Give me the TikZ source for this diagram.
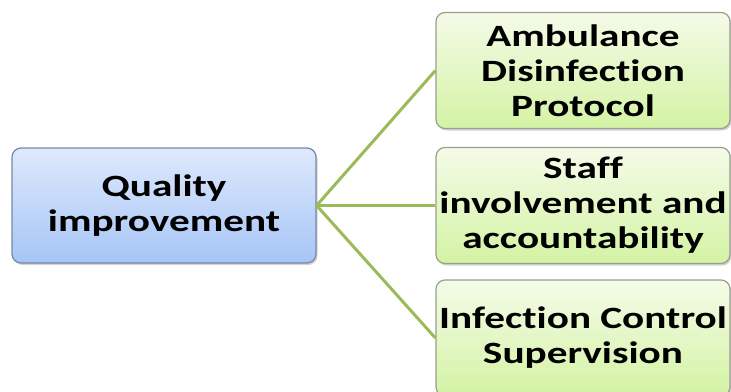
\documentclass[tikz,border=0pt]{standalone}
\usepackage{fontspec}
\setmainfont{Carlito}[FakeStretch=1.33,Ligatures=NoCommon]
\usetikzlibrary{shadows}

\definecolor{rootTop}{RGB}{222,233,252}
\definecolor{rootBot}{RGB}{166,197,246}
\definecolor{rootLine}{RGB}{118,136,166}
\definecolor{leafTop}{RGB}{244,251,232}
\definecolor{leafBot}{RGB}{212,243,164}
\definecolor{leafLine}{RGB}{150,160,140}
\definecolor{linkGreen}{RGB}{155,187,89}

\tikzstyle{box}=[shape=rectangle,rounded corners=9pt,line width=1.2pt,align=center,
  font=\bfseries\fontsize{31}{35}\selectfont,inner sep=0pt,
  drop shadow={shadow xshift=1.5pt,shadow yshift=-2pt,opacity=0.35}]
\tikzstyle{root}=[box,draw=rootLine,top color=rootTop,bottom color=rootBot,
  minimum width=304pt,minimum height=115pt]
\tikzstyle{leaf}=[box,draw=leafLine,top color=leafTop,bottom color=leafBot,
  minimum width=294pt,minimum height=116pt]
\tikzstyle{link}=[draw=linkGreen,line width=3pt]

\begin{document}
\begin{tikzpicture}[x=1pt,y=-1pt]
\useasboundingbox (0,0) rectangle (731,391);
% left
\node[root] (quality) at (164,205.5) {Quality\\improvement};
% right column
\node[leaf] (protocol) at (583,70.5) {Ambulance\\Disinfection\\Protocol};
\node[leaf] (staff) at (583,205.5) {Staff\\involvement and\\accountability};
\node[leaf] (control) at (583,338) {Infection Control\\Supervision};
% links
\draw[link] (quality.east) -- (protocol.west);
\draw[link] (quality.east) -- (staff.west);
\draw[link] (quality.east) -- (control.west);
\end{tikzpicture}
\end{document}
